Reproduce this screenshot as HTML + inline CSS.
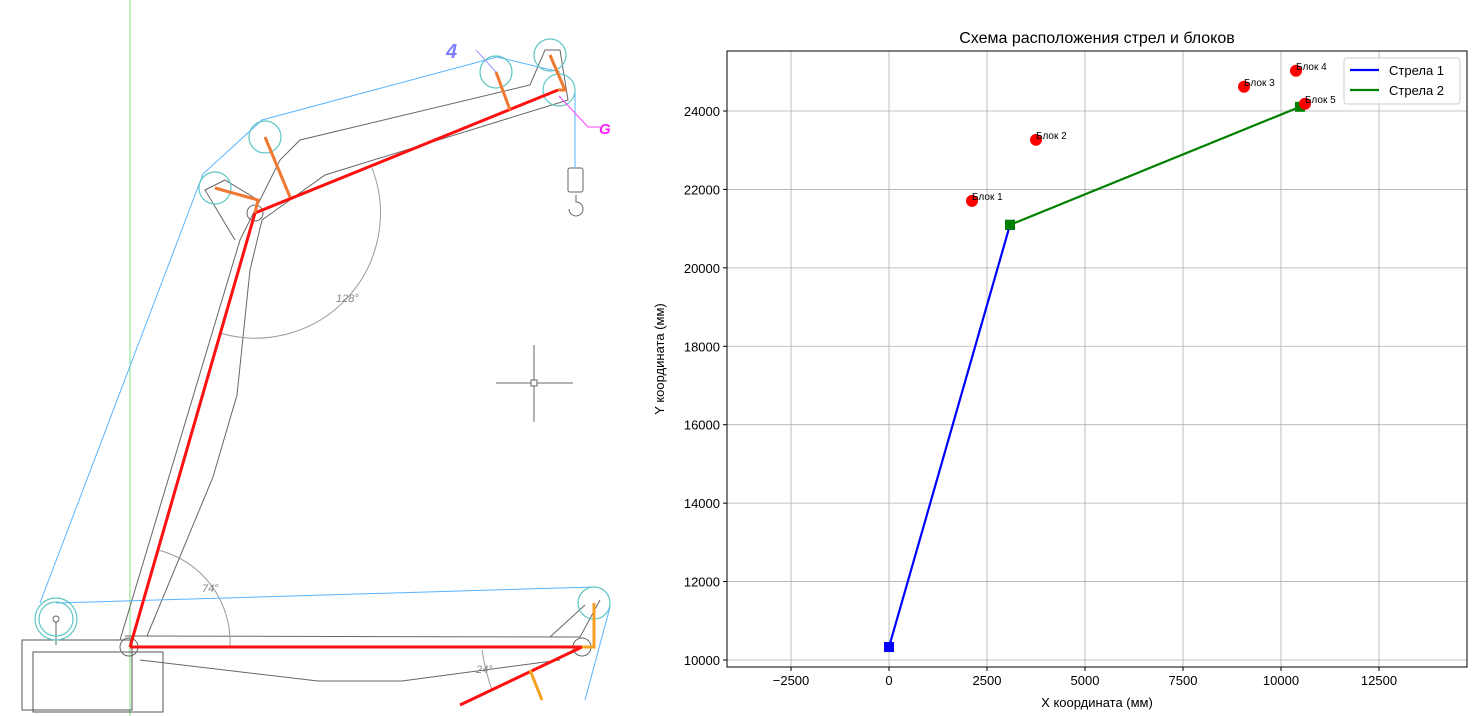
<!DOCTYPE html>
<html><head><meta charset="utf-8"><style>
html,body{margin:0;padding:0;background:#fff;width:1478px;height:716px;overflow:hidden;font-family:"Liberation Sans","DejaVu Sans",sans-serif}
svg{position:absolute;left:0;top:0}
</style></head><body>
<svg width="1478" height="716">
 <g fill="none">
  <line x1="130" y1="0" x2="130" y2="716" stroke="#7fe07f" stroke-width="1"/>
  <rect x="22" y="640" width="110" height="70" stroke="#555"/>
  <rect x="33" y="652" width="130" height="60" stroke="#555"/>
  <g stroke="#666" stroke-width="1">
   <polyline points="120,640 240,240 280,160 300,140 530,85 545,50 560,50 568,100 325,175 262,220 250,270 237,395 213,477 147,636"/>
   <polyline points="235,240 205,190 225,180 258,200"/>
   <polyline points="125,636 580,637 600,600"/>
   <polyline points="140,660 318,681 402,681 560,660"/>
   <polyline points="550,637 585,605"/>
   <circle cx="129" cy="647" r="9"/><circle cx="255" cy="213" r="8"/><circle cx="582" cy="647" r="9"/>
   <circle cx="56" cy="619" r="3"/><line x1="56" y1="622" x2="56" y2="645"/>
   <path d="M372,168 A125,125 0 0 1 220,333" stroke="#999"/>
   <path d="M158,550 A95,95 0 0 1 230,647" stroke="#999"/>
   <path d="M482,650 Q485,670 492,690" stroke="#999"/>
   <line x1="534" y1="345" x2="534" y2="422"/><line x1="496" y1="383" x2="573" y2="383"/>
   <rect x="531" y="380" width="6" height="6" fill="#fff"/>
   <rect x="568" y="168" width="15" height="24" rx="2"/>
   <path d="M576,195 L576,202 A7,7 0 1 1 569,209"/>
  </g>
  <g stroke="#5ab4ff" stroke-width="1">
   <polyline points="40,603 203,174 262,120 497,57 560,72"/>
   <line x1="56" y1="603" x2="594" y2="587"/>
   <line x1="575" y1="90" x2="575" y2="168"/>
   <line x1="610" y1="607" x2="585" y2="700"/>
  </g>
  <g stroke="#5fc5c5" stroke-width="1.2">
   <circle cx="56" cy="619" r="21"/><circle cx="56" cy="619" r="17"/>
   <circle cx="215" cy="188" r="16"/><circle cx="265" cy="137" r="16"/>
   <circle cx="496" cy="72" r="16"/><circle cx="550" cy="55" r="16"/>
   <circle cx="559" cy="90" r="16"/><circle cx="594" cy="603" r="16"/>
  </g>
  <g stroke="#ff1010" stroke-width="3">
   <polyline points="130,647 255,213 558,90"/>
   <line x1="130" y1="647" x2="582" y2="647"/>
   <line x1="582" y1="647" x2="460" y2="705"/>
  </g>
  <g stroke="#f07830" stroke-width="3">
   <polyline points="255,213 258,200 215,188"/>
   <line x1="290" y1="197" x2="265" y2="137"/>
   <line x1="510" y1="110" x2="496" y2="72"/>
   <polyline points="558,90 565,90 550,55"/>
  </g>
  <g stroke="#f5a020" stroke-width="3">
   <polyline points="582,647 594,647 594,603"/>
   <line x1="530" y1="670" x2="542" y2="700"/>
  </g>
  <line x1="476" y1="50" x2="496" y2="72" stroke="#9a9aff"/>
  <polyline points="559,96 588,127 600,127" stroke="#ff40ff"/>
 </g>
 <text x="446" y="58" font-size="20" font-weight="bold" font-style="italic" fill="#7f7fff">4</text>
 <text x="599" y="134" font-size="15" font-weight="bold" font-style="italic" fill="#ff20ff">G</text>
 <text x="336" y="302" font-size="11" font-style="italic" fill="#888">128°</text>
 <text x="202" y="592" font-size="11" font-style="italic" fill="#888">74°</text>
 <text x="476" y="673" font-size="11" font-style="italic" fill="#888">24°</text>
</svg>
<svg id="chart" width="1478" height="716"></svg>
<script>
const boom1X=[0,3087];
const boom1Y=[10330,21097];
const boom2X=[3087,10485];
const boom2Y=[21097,24107];
const blockNames=["Блок 1","Блок 2","Блок 3","Блок 4","Блок 5"];
const blockX=[2117,3750,9056,10383,10612];
const blockY=[21709,23265,24617,25026,24184];
const xTicks=[-2500,0,2500,5000,7500,10000,12500];
const yTicks=[10000,12000,14000,16000,18000,20000,22000,24000];

const L=727,R=1467,T=51,B=667;
const xMin=-4133,xMax=14745,yMin=9821,yMax=25530;
const sx=v=>L+(v-xMin)/(xMax-xMin)*(R-L);
const sy=v=>B-(v-yMin)/(yMax-yMin)*(B-T);
const svg=document.getElementById('chart');
const NS='http://www.w3.org/2000/svg';
function mk(tag,attrs,parent){const e=document.createElementNS(NS,tag);for(const k in attrs)e.setAttribute(k,attrs[k]);(parent||svg).appendChild(e);return e;}
let e;
xTicks.forEach(v=>{
 e=mk('line',{x1:sx(v),x2:sx(v),y1:T,y2:B,stroke:'#b0b0b0','stroke-width':0.8});
 
 
 e=mk('line',{x1:sx(v),x2:sx(v),y1:B,y2:B+4,stroke:'#000'});
 
 
 e=mk('text',{x:sx(v),y:B+18,'font-size':13,'text-anchor':'middle',fill:'#000'});
 e.textContent=v<0?'\u2212'+Math.abs(v):v;
 
 
});
yTicks.forEach(v=>{
 e=mk('line',{x1:L,x2:R,y1:sy(v),y2:sy(v),stroke:'#b0b0b0','stroke-width':0.8});
 
 
 e=mk('line',{x1:L-4,x2:L,y1:sy(v),y2:sy(v),stroke:'#000'});
 
 
 e=mk('text',{x:L-7,y:sy(v)+5,'font-size':13,'text-anchor':'end',fill:'#000'});
 e.textContent=v;
 
 
});
function drawBoom(xs,ys,color,name){
 let pts=xs.map((x,i)=>sx(x)+','+sy(ys[i])).join(' ');
 e=mk('polyline',{points:pts,fill:'none',stroke:color,'stroke-width':2.2});
 
 
 xs.forEach((x,i)=>{
  e=mk('rect',{x:sx(x)-5,y:sy(ys[i])-5,width:10,height:10,fill:color});
  
  
 });
}
drawBoom(boom1X,boom1Y,'#0000ff','boom-1');
drawBoom(boom2X,boom2Y,'#008000','boom-2');
blockX.forEach((x,i)=>{
 e=mk('circle',{cx:sx(x),cy:sy(blockY[i]),r:6,fill:'#ff0000'});
 
 
 e=mk('text',{x:sx(x),y:sy(blockY[i])-1,'font-size':10,fill:'#000'});
 e.textContent=blockNames[i];
 
 
});
e=mk('rect',{x:L,y:T,width:R-L,height:B-T,fill:'none',stroke:'#000','stroke-width':1});


e=mk('text',{x:(L+R)/2,y:T-8,'font-size':16,'text-anchor':'middle',fill:'#000'});
e.textContent='Схема расположения стрел и блоков';


e=mk('text',{x:(L+R)/2,y:707,'font-size':13,'text-anchor':'middle',fill:'#000'});
e.textContent='X координата (мм)';


e=mk('text',{x:664,y:(T+B)/2,'font-size':13,'text-anchor':'middle',fill:'#000',transform:'rotate(-90 664 '+((T+B)/2)+')'});
e.textContent='Y координата (мм)';


const lg=mk('g',{});


mk('rect',{x:1344,y:58,width:116,height:46,rx:3,fill:'#fff','fill-opacity':0.8,stroke:'#ccc'},lg);
[['Стрела 1','#0000ff',70],['Стрела 2','#008000',90]].forEach(([t,c,y])=>{
 e=mk('line',{x1:1350,x2:1379,y1:y,y2:y,stroke:c,'stroke-width':2.2},lg);
 
 
 e=mk('text',{x:1389,y:y+5,'font-size':13,fill:'#000'},lg);
 e.textContent=t;
 
 
});
</script>
</body></html>
